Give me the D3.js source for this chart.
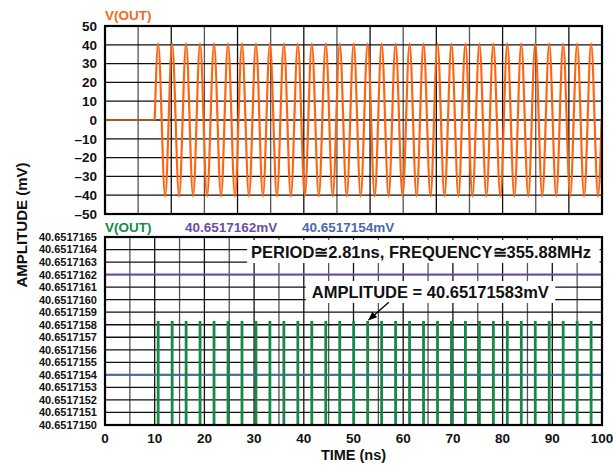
<!DOCTYPE html>
<html>
<head>
<meta charset="utf-8">
<script src="https://cdn.jsdelivr.net/npm/d3@7"></script>
<style>
  body { margin: 0; background: #fff; }
  text { font-family: "Liberation Sans", Arial, Helvetica, sans-serif; font-weight: bold; }
</style>
</head>
<body>
<div id="chart"></div>
<script>
// dati
const timeTicks = [0, 10, 20, 30, 40, 50, 60, 70, 80, 90, 100];
const topTicks = [50, 40, 30, 20, 10, 0, -10, -20, -30, -40, -50];
const bottomTicks = [40.6517165, 40.6517164, 40.6517163, 40.6517162, 40.6517161, 40.6517160,
  40.6517159, 40.6517158, 40.6517157, 40.6517156, 40.6517155, 40.6517154, 40.6517153,
  40.6517152, 40.6517151, 40.6517150];

// picchi del segnale (ns)
const peakTimes = [10.70, 13.51, 16.32, 19.13, 21.94, 24.75, 27.56, 30.37, 33.18, 35.99,
  38.80, 41.61, 44.42, 47.23, 50.04, 52.85, 55.66, 58.47, 61.28, 64.09, 66.90, 69.71,
  72.52, 75.33, 78.14, 80.95, 83.76, 86.57, 89.38, 92.19, 95.00, 97.81];
const startTime = 10;      // inizio oscillazione
const period = 2.81;       // ns
const amplitude = 40.65;   // mV (V(OUT))
const peakLevel = 40.65171583;
const cursorLevels = [40.6517162, 40.6517154];
const cursorLabels = ["40.6517162mV", "40.6517154mV"];

const width = 613, height = 468;
const left = 105, right = 602;
const topPlot = { y0: 26, y1: 214 };
const botPlot = { y0: 237, y1: 425 };

const svg = d3.select("#chart").append("svg")
  .attr("width", width).attr("height", height);

const x = d3.scaleLinear().domain([0, 100]).range([left, right]);
const yTop = d3.scaleLinear().domain([-50, 50]).range([topPlot.y1, topPlot.y0]);
const yBot = d3.scaleLinear().domain([40.6517150, 40.6517165]).range([botPlot.y1, botPlot.y0]);

const fmt = v => v < 0 ? "–" + Math.abs(v) : String(v);

// ---------- pannello superiore ----------
const gTop = svg.append("g");
gTop.selectAll(".vg").data(d3.range(1, 15)).join("line")
  .attr("x1", i => x(i * 100 / 15)).attr("x2", i => x(i * 100 / 15))
  .attr("y1", topPlot.y0).attr("y2", topPlot.y1)
  .attr("stroke", (d, i) => i % 2 ? "#111" : "#555").attr("stroke-width", 1.3);
gTop.selectAll(".hg").data(topTicks.slice(1, -1)).join("line")
  .attr("x1", left).attr("x2", right)
  .attr("y1", d => yTop(d)).attr("y2", d => yTop(d))
  .attr("stroke", "#111").attr("stroke-width", 1.3);

gTop.selectAll(".tl").data(topTicks).join("text")
  .attr("x", 97).attr("y", d => yTop(d)).attr("dy", "0.36em")
  .attr("text-anchor", "end").attr("font-size", 13.5).attr("fill", "#111")
  .text(fmt);

// segnale arancione: tratto piatto + sinusoide attraverso picchi/zeri/valli
const wavePts = [[startTime, 0]];
peakTimes.forEach(t => {
  wavePts.push([t, amplitude]);
  wavePts.push([t + period / 4, 0]);
  wavePts.push([t + period / 2, -amplitude]);
  wavePts.push([t + 3 * period / 4, 0]);
});
svg.append("clipPath").attr("id", "ct").append("rect")
  .attr("x", left).attr("y", topPlot.y0).attr("width", right - left).attr("height", topPlot.y1 - topPlot.y0);

const line = d3.line().x(d => x(d[0])).y(d => yTop(d[1]));
gTop.append("path").datum([[0, 0], [startTime, 0]])
  .attr("d", line).attr("fill", "none").attr("stroke", "#c85a10").attr("stroke-width", 1.6);
gTop.append("path").datum(wavePts)
  .attr("clip-path", "url(#ct)")
  .attr("d", line.curve(d3.curveNatural)).attr("fill", "none")
  .attr("stroke", "#ff6510").attr("stroke-width", 2.2);

gTop.append("rect").attr("x", left).attr("y", topPlot.y0)
  .attr("width", right - left).attr("height", topPlot.y1 - topPlot.y0)
  .attr("fill", "none").attr("stroke", "#000").attr("stroke-width", 2.2);

svg.append("text").attr("x", left).attr("y", 20)
  .attr("font-size", 13.5).attr("fill", "#f26a1b").text("V(OUT)");

// ---------- pannello inferiore ----------
const gBot = svg.append("g");
gBot.selectAll(".vg").data(timeTicks.flatMap(t => [t, t + 5]).filter(t => t > 0 && t < 100)).join("line")
  .attr("x1", d => x(d)).attr("x2", d => x(d))
  .attr("y1", botPlot.y0).attr("y2", botPlot.y1)
  .attr("stroke", (d, i) => i % 2 ? "#111" : "#555").attr("stroke-width", 1.3);
gBot.selectAll(".hg").data(bottomTicks.slice(1, -1)).join("line")
  .attr("x1", left).attr("x2", right)
  .attr("y1", d => yBot(d)).attr("y2", d => yBot(d))
  .attr("stroke", "#111").attr("stroke-width", 1.3);

gBot.selectAll(".tl").data(bottomTicks).join("text")
  .attr("x", 97).attr("y", d => yBot(d)).attr("dy", "0.36em")
  .attr("text-anchor", "end").attr("font-size", 11).attr("fill", "#111")
  .text(d => d.toFixed(7));

// cursori
const cursorColors = ["#6a4ea6", "#4a6aa8"];
gBot.selectAll(".cur").data(cursorLevels).join("line")
  .attr("x1", left).attr("x2", right)
  .attr("y1", d => yBot(d)).attr("y2", d => yBot(d))
  .attr("stroke", (d, i) => cursorColors[i]).attr("stroke-width", 2);

// impulsi verdi ai picchi
gBot.selectAll(".pk").data(peakTimes).join("line")
  .attr("x1", d => x(d)).attr("x2", d => x(d))
  .attr("y1", botPlot.y1).attr("y2", yBot(peakLevel))
  .attr("stroke", "#138a46").attr("stroke-width", 2.8);

// annotazioni
const ann1 = gBot.append("g");
ann1.append("rect").attr("x", x(28.6)).attr("y", 240)
  .attr("width", x(99.5) - x(28.6)).attr("height", 23).attr("fill", "#fff");
ann1.append("text").attr("x", x(29.4)).attr("y", 257.5)
  .attr("font-size", 16.5).attr("fill", "#111")
  .text("PERIOD\u2245" + period + "ns, FREQUENCY\u2245355.88MHz");

const ann2 = gBot.append("g");
ann2.append("rect").attr("x", x(40.4)).attr("y", 281)
  .attr("width", x(90.6) - x(40.4)).attr("height", 22).attr("fill", "#fff");
ann2.append("text").attr("x", x(41.6)).attr("y", 298)
  .attr("font-size", 16.5).attr("fill", "#111")
  .text("AMPLITUDE = " + peakLevel + "mV");

svg.append("defs").append("marker").attr("id", "ah")
  .attr("viewBox", "0 0 10 10").attr("refX", 9).attr("refY", 5)
  .attr("markerWidth", 7).attr("markerHeight", 7).attr("orient", "auto")
  .append("path").attr("d", "M0,1 L10,5 L0,9 Z").attr("fill", "#000");
gBot.append("line")
  .attr("x1", x(57.1)).attr("y1", yBot(40.65171598))
  .attr("x2", x(peakTimes[15]) + 1).attr("y2", yBot(peakLevel) - 1)
  .attr("stroke", "#000").attr("stroke-width", 1.3).attr("marker-end", "url(#ah)");

gBot.append("rect").attr("x", left).attr("y", botPlot.y0)
  .attr("width", right - left).attr("height", botPlot.y1 - botPlot.y0)
  .attr("fill", "none").attr("stroke", "#000").attr("stroke-width", 2.2);

// intestazione pannello inferiore
svg.append("text").attr("x", left).attr("y", 232)
  .attr("font-size", 13.5).attr("fill", "#138a46").text("V(OUT)");
svg.selectAll(".cl").data(cursorLabels).join("text")
  .attr("x", (d, i) => i ? 302 : 185).attr("y", 232)
  .attr("font-size", 13.5).attr("fill", (d, i) => cursorColors[i]).text(d => d);

// asse x
svg.selectAll(".xt").data(timeTicks).join("text")
  .attr("x", d => x(d)).attr("y", 443)
  .attr("text-anchor", "middle").attr("font-size", 13.5).attr("fill", "#111")
  .text(d => d);
svg.append("text").attr("x", x(50)).attr("y", 460)
  .attr("text-anchor", "middle").attr("font-size", 14.5).attr("fill", "#111")
  .text("TIME (ns)");

svg.append("text")
  .attr("transform", `translate(27, 225) rotate(-90)`)
  .attr("text-anchor", "middle").attr("font-size", 15).attr("fill", "#111")
  .text("AMPLITUDE (mV)");
</script>
</body>
</html>
